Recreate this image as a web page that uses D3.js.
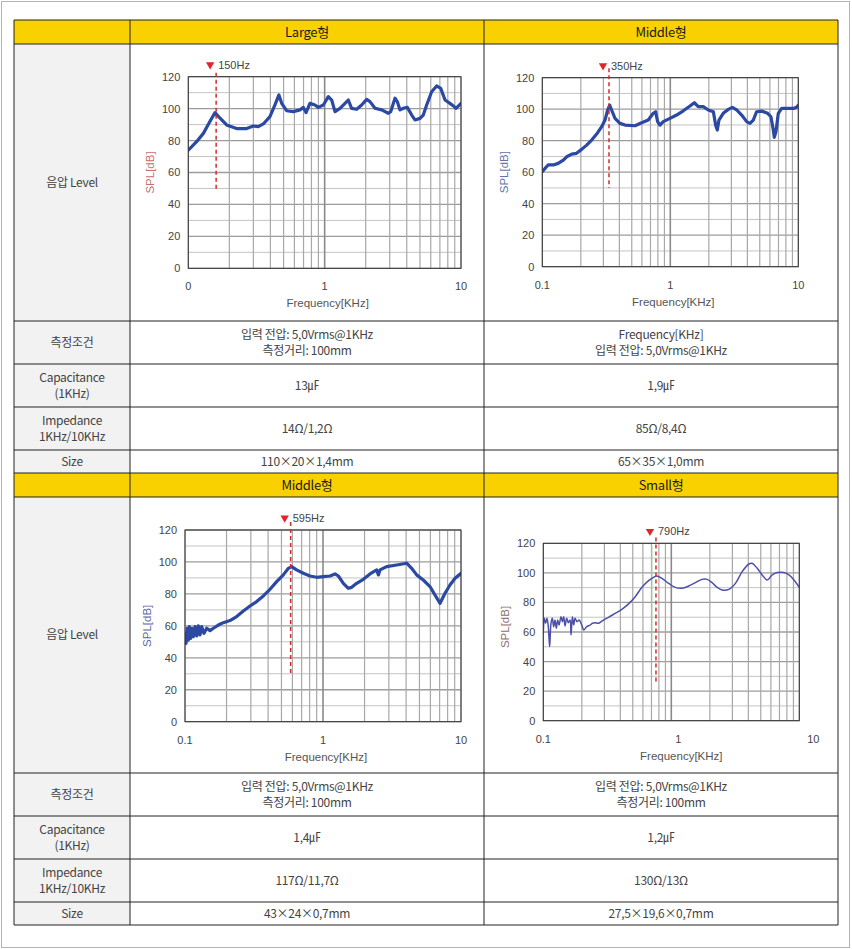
<!DOCTYPE html>
<html>
<head>
<meta charset="utf-8">
<script src="https://cdn.jsdelivr.net/npm/d3@7/dist/d3.min.js"></script>
<style>
    html, body { margin: 0; padding: 0; background: #fff; }
    svg { display: block; }
</style>
</head>
<body>
<svg id="sheet" width="852" height="949"></svg>
<script>
// 주파수 응답 곡선 (kHz, dB) — 그림에서 읽은 값
var large150 = [
    [0.1, 74], [0.115, 79.3], [0.129, 84.5], [0.144, 91.9], [0.157, 97.5], [0.171, 94],
    [0.191, 89.8], [0.226, 87.5], [0.268, 87.5], [0.300, 89.1], [0.326, 88.7], [0.355, 90.4],
    [0.397, 95], [0.432, 102.3], [0.462, 108.6], [0.484, 103.3], [0.526, 98.7], [0.589, 98.1],
    [0.659, 99.2], [0.698, 100.8], [0.730, 97.5], [0.780, 103.3], [0.849, 102.3], [0.898, 100.8],
    [0.978, 102.3], [1.064, 107.5], [1.126, 105.4], [1.191, 98.1], [1.296, 100.2], [1.41, 103.3],
    [1.49, 105.4], [1.578, 100.2], [1.717, 99.6], [1.868, 102.3], [2.032, 105.8], [2.15, 104.4],
    [2.34, 100.2], [2.62, 99.2], [2.93, 97.1], [3.05, 98.1], [3.28, 106.5], [3.41, 104.4],
    [3.57, 99.2], [3.78, 100.2], [4.04, 100.8], [4.35, 96], [4.60, 92.9], [5.00, 93.9],
    [5.29, 96], [5.60, 102.3], [6.09, 110.6], [6.63, 114.2], [7.10, 112.7], [7.64, 105.4],
    [8.30, 103.3], [8.79, 101.7], [9.19, 100.2], [10, 103.3]
];
var middle350 = [
    [0.1, 60.3], [0.105, 62.4], [0.111, 64.6], [0.122, 64.6], [0.133, 65.6], [0.146, 67.7],
    [0.155, 69.8], [0.170, 71.5], [0.185, 72], [0.203, 74.5], [0.222, 77.2], [0.243, 80.4],
    [0.266, 84.2], [0.291, 88.9], [0.309, 93.1], [0.324, 99.5], [0.336, 102.6], [0.348, 99.5],
    [0.370, 94.2], [0.404, 91], [0.443, 89.9], [0.530, 89.5], [0.597, 91.4], [0.673, 93.1],
    [0.736, 97.4], [0.768, 98.4], [0.796, 92.1], [0.830, 89.9], [0.881, 92.1], [0.994, 94.2],
    [1.12, 96.3], [1.264, 99], [1.425, 102], [1.54, 104.1], [1.655, 101.6], [1.81, 101.6],
    [1.98, 99.5], [2.17, 98.4], [2.26, 89.9], [2.33, 86.8], [2.40, 93.1], [2.59, 97.4],
    [2.84, 99.9], [3.05, 101.2], [3.30, 99.5], [3.61, 96.3], [3.95, 92.1], [4.19, 91],
    [4.45, 93.1], [4.72, 98.4], [5.17, 98.8], [5.76, 97.4], [6.11, 95.2], [6.38, 86.8],
    [6.49, 82.1], [6.69, 85.7], [6.98, 97.4], [7.41, 100.5], [8.35, 100.5], [9.14, 100.5],
    [9.70, 101.2], [10, 102.6]
];
var middle595 = [
    [0.1, 55.3], [0.1017, 49], [0.104, 58.5], [0.1057, 51], [0.1075, 59.5], [0.1099, 52.2],
    [0.1124, 58.5], [0.1149, 53.2], [0.1182, 59.5], [0.1215, 53.7], [0.1249, 60], [0.1284, 54.3],
    [0.1321, 59.5], [0.1373, 55.3], [0.1436, 58.5], [0.1518, 57], [0.1605, 58.5], [0.1744, 60.5],
    [0.1896, 62], [0.2119, 63.3], [0.2368, 65.8], [0.2647, 69.3], [0.2958, 72.4], [0.3306, 75.2],
    [0.3695, 78.7], [0.413, 82.9], [0.4615, 87.7], [0.516, 91.9], [0.561, 96], [0.593, 97.1],
    [0.644, 95], [0.720, 92.9], [0.805, 91.2], [0.900, 90.4], [1.006, 90.8], [1.124, 91.2],
    [1.222, 92.5], [1.292, 91.2], [1.404, 86.6], [1.526, 83.5], [1.614, 84.1], [1.754, 86.6],
    [1.96, 89.1], [2.19, 92.5], [2.45, 95], [2.52, 91.9], [2.59, 95], [2.89, 97.1],
    [3.42, 98.1], [4.04, 99.2], [4.39, 96], [4.77, 91.9], [5.33, 88.7], [5.96, 84.6],
    [6.48, 79.3], [7.05, 74.1], [7.66, 80.4], [8.32, 85.6], [9.06, 89.8], [10, 92.9]
];
var small790 = [
    [0.1, 59.1], [0.1018, 69.3], [0.1043, 65.9], [0.1068, 69.3], [0.1094, 63.6], [0.1121, 50.1],
    [0.1148, 65.9], [0.1176, 69.3], [0.1205, 63.6], [0.1234, 68.1], [0.1264, 62.5], [0.1295, 68.1],
    [0.1327, 64.7], [0.1375, 70.4], [0.1409, 67], [0.1443, 70.4], [0.1478, 64.1], [0.1523, 69.3],
    [0.1570, 66.3], [0.1618, 68.1], [0.1647, 58], [0.1687, 70.4], [0.1728, 64.7], [0.1770, 69.3],
    [0.1835, 67], [0.1903, 68.1], [0.1997, 64.7], [0.2070, 61.4], [0.2185, 63.6], [0.2320, 64.7],
    [0.2420, 65.9], [0.2540, 66.3], [0.2697, 65.9], [0.2951, 68.1], [0.3229, 69.9], [0.3642, 72.6],
    [0.4108, 75.3], [0.4634, 79], [0.5224, 83.9], [0.5892, 90.2], [0.6645, 94.7], [0.7271, 97],
    [0.7723, 97.9], [0.8451, 96.3], [0.953, 92.9], [1.075, 90.2], [1.212, 89.6], [1.367, 91.1],
    [1.542, 93.4], [1.739, 95.6], [1.903, 95.6], [2.082, 93.4], [2.279, 90.2], [2.494, 88.4],
    [2.812, 88.8], [3.171, 92.9], [3.577, 100.8], [4.034, 106], [4.284, 106.5], [4.688, 103.1],
    [5.131, 98.6], [5.615, 95.2], [6.144, 98.6], [6.726, 100.2], [7.585, 100.2], [8.302, 98.6],
    [9.084, 95.2], [10, 90.2]
];

var yTicks = [0, 20, 40, 60, 80, 100, 120];
var xTicks = [0.1, 1, 10];
var xLabelsLarge = ['0', '1', '10'];
var xLabels = ['0.1', '1', '10'];
var markerFreqs = [0.16, 0.332, 0.583, 0.759];
var markerLabels = ['150Hz', '350Hz', '595Hz', '790Hz'];

var headersTop = ['Large형', 'Middle형'];
var headersBottom = ['Middle형', 'Small형'];
var rowLabels = ['측정조건', 'Capacitance\n(1KHz)', 'Impedance\n1KHz/10KHz', 'Size'];
var specsTop = [
    ['입력 전압: 5,0Vrms@1KHz\n측정거리: 100mm', 'Frequency[KHz]\n입력 전압: 5,0Vrms@1KHz'],
    ['13㎌', '1,9㎌'],
    ['14Ω/1,2Ω', '85Ω/8,4Ω'],
    ['110×20×1,4mm', '65×35×1,0mm']
];
var specsBottom = [
    ['입력 전압: 5,0Vrms@1KHz\n측정거리: 100mm', '입력 전압: 5,0Vrms@1KHz\n측정거리: 100mm'],
    ['1,4㎌', '1,2㎌'],
    ['117Ω/11,7Ω', '130Ω/13Ω'],
    ['43×24×0,7mm', '27,5×19,6×0,7mm']
];

(function () {
    var KO = '"Noto Sans CJK KR", sans-serif';
    var AX = '"Liberation Sans Narrow", "Liberation Sans", Arial, sans-serif';
    var YELLOW = '#f9d100';

    var svg = d3.select('#sheet');

    // 바깥 테두리
    svg.append('rect').attr('x', 1.5).attr('y', 1.5).attr('width', 848).attr('height', 946)
        .attr('fill', '#fff').attr('stroke', '#b4b4b4');

    // 표 구조
    var X0 = 14, C1 = 130, C2 = 484, X1 = 838;
    var rowsY = [20, 44, 321, 364, 407, 450, 473, 497, 773, 816, 859, 902, 925];
    var cols = [[C1, C2], [C2, X1]];

    var tbl = svg.append('g');

    function cellText(g, x, y0, y1, txt, opt) {
        var lines = txt.split('\n');
        var lh = 16.5;
        var cy = (y0 + y1) / 2 - (lines.length - 1) * lh / 2;
        var t = g.append('text')
            .attr('text-anchor', 'middle')
            .attr('font-family', KO)
            .attr('font-size', opt.size)
            .attr('fill', opt.color)
            .attr('letter-spacing', -0.3);
        lines.forEach(function (ln, i) {
            t.append('tspan').attr('x', x).attr('y', cy + i * lh).attr('dy', '0.36em').text(ln);
        });
    }

    function block(iHead, headers, specs) {
        var yH0 = rowsY[iHead], yH1 = rowsY[iHead + 1], yC1 = rowsY[iHead + 2];
        tbl.append('rect').attr('x', X0).attr('y', yH0).attr('width', X1 - X0).attr('height', yH1 - yH0)
            .attr('fill', YELLOW);
        tbl.append('rect').attr('x', X0).attr('y', yH1).attr('width', C1 - X0).attr('height', rowsY[iHead + 6] - yH1)
            .attr('fill', '#f2f2f2');
        headers.forEach(function (h, i) {
            cellText(tbl, (cols[i][0] + cols[i][1]) / 2, yH0, yH1, h, { size: 13, color: '#1a1a1a' });
        });
        cellText(tbl, (X0 + C1) / 2, yH1, yC1, '음압 Level', { size: 12, color: '#444' });
        rowLabels.forEach(function (lb, r) {
            var a = rowsY[iHead + 2 + r], b = rowsY[iHead + 3 + r];
            cellText(tbl, (X0 + C1) / 2, a, b, lb, { size: 12, color: '#444' });
            specs[r].forEach(function (s, i) {
                cellText(tbl, (cols[i][0] + cols[i][1]) / 2, a, b, s, { size: 12, color: '#444' });
            });
        });
    }
    block(0, headersTop, specsTop);
    block(6, headersBottom, specsBottom);

    rowsY.forEach(function (y) {
        tbl.append('line').attr('x1', X0).attr('x2', X1).attr('y1', y).attr('y2', y)
            .attr('stroke', '#222').attr('stroke-width', 1);
    });
    [X0, C1, C2, X1].forEach(function (x) {
        tbl.append('line').attr('x1', x).attr('x2', x).attr('y1', rowsY[0]).attr('y2', rowsY[rowsY.length - 1])
            .attr('stroke', '#222').attr('stroke-width', 1);
    });

    // 차트 설정 (위치/스타일)
    var charts = [
        { data: large150, box: [188.3, 76.7, 461, 268.3], labels: xLabelsLarge, lab: null,
          ylab: '#c86e6e', color: '#2b49a2', lw: 3.2, dashTop: 122.5, dashBot: 49, curve: d3.curveLinear },
        { data: middle350, box: [542.3, 77.7, 798.3, 266.7], labels: xLabels, lab: null,
          ylab: '#6272a8', color: '#2b49a2', lw: 3.2, dashTop: 126, dashBot: 50, curve: d3.curveLinear },
        { data: middle595, box: [185, 530, 461, 721.7], labels: xLabels, lab: null,
          ylab: '#5a68a4', color: '#2b49a2', lw: 3.2, dashTop: 125, dashBot: 30, curve: d3.curveLinear },
        { data: small790, box: [543.3, 543.3, 799.3, 720.7], labels: xLabels, lab: [543.3, 813.3],
          ylab: '#8c6e6e', color: '#4c50a8', lw: 1.5, dashTop: 124, dashBot: 26, green: 0.706,
          curve: d3.curveCatmullRom.alpha(0.5) }
    ];

    var decades = [];
    [0.1, 1].forEach(function (d) { for (var k = 1; k <= 9; k++) decades.push(d * k); });
    decades.push(10);
    var yGrid = d3.range(0, 121, 10);

    charts.forEach(function (c, ci) {
        var L = c.box[0], T = c.box[1], R = c.box[2], B = c.box[3];
        var x = d3.scaleLog().domain([0.1, 10]).range([L, R]);
        var y = d3.scaleLinear().domain([0, 120]).range([B, T]);
        var xl = c.lab ? d3.scaleLog().domain([0.1, 10]).range(c.lab) : x;
        var g = svg.append('g');

        g.append('rect').attr('x', L).attr('y', T).attr('width', R - L).attr('height', B - T).attr('fill', '#fff');

        g.selectAll('line.hg').data(yGrid).join('line').attr('class', 'hg')
            .attr('x1', L).attr('x2', R)
            .attr('y1', function (d) { return y(d); }).attr('y2', function (d) { return y(d); })
            .attr('stroke', function (d) { return d % 20 === 0 ? '#9c9c9c' : '#c4c4c4'; })
            .attr('stroke-width', function (d) { return d % 20 === 0 ? 1.3 : 1; });

        g.selectAll('line.vg').data(decades).join('line').attr('class', 'vg')
            .attr('x1', function (d) { return x(d); }).attr('x2', function (d) { return x(d); })
            .attr('y1', T).attr('y2', B)
            .attr('stroke', function (d) { return (d === 1) ? '#8a8a8a' : '#a8a8a8'; })
            .attr('stroke-width', function (d) { return (d === 1) ? 1.6 : 1.2; });

        if (c.green) {
            g.append('line').attr('x1', x(c.green)).attr('x2', x(c.green))
                .attr('y1', y(118)).attr('y2', y(52)).attr('stroke', '#9fd3a0').attr('stroke-width', 1);
        }

        var clipId = 'clip' + ci;
        g.append('clipPath').attr('id', clipId).append('rect')
            .attr('x', L).attr('y', T - 2).attr('width', R - L).attr('height', B - T + 4);

        var line = d3.line()
            .x(function (d) { return x(d[0]); })
            .y(function (d) { return y(d[1]); })
            .curve(c.curve);
        g.append('path').datum(c.data)
            .attr('clip-path', 'url(#' + clipId + ')')
            .attr('d', line).attr('fill', 'none')
            .attr('stroke', c.color).attr('stroke-width', c.lw)
            .attr('stroke-linejoin', 'round').attr('stroke-linecap', 'round');

        g.append('rect').attr('x', L).attr('y', T).attr('width', R - L).attr('height', B - T)
            .attr('fill', 'none').attr('stroke', '#333').attr('stroke-width', 1);

        // 축 눈금 라벨
        g.selectAll('text.yt').data(yTicks).join('text').attr('class', 'yt')
            .attr('x', L - 8).attr('y', function (d) { return y(d); }).attr('dy', '0.36em')
            .attr('text-anchor', 'end').attr('font-family', AX).attr('font-size', 11)
            .attr('fill', '#444').text(function (d) { return d; });

        g.selectAll('text.xt').data(xTicks).join('text').attr('class', 'xt')
            .attr('x', function (d) { return xl(d); }).attr('y', B + 18).attr('dy', '0.36em')
            .attr('text-anchor', 'middle').attr('font-family', AX).attr('font-size', 11)
            .attr('fill', '#444').text(function (d, i) { return c.labels[i]; });

        var xr = xl.range();
        g.append('text').attr('x', (xr[0] + xr[1]) / 2 + 3).attr('y', B + 35).attr('dy', '0.36em')
            .attr('text-anchor', 'middle').attr('font-family', AX).attr('font-size', 11.5)
            .attr('fill', '#555').text('Frequency[KHz]');

        g.append('text')
            .attr('transform', 'translate(' + (L - 38) + ',' + ((T + B) / 2 - (c.lab ? 5 : 0)) + ') rotate(-90)')
            .attr('dy', '0.36em').attr('text-anchor', 'middle')
            .attr('font-family', AX).attr('font-size', 11.5)
            .attr('fill', c.ylab).text('SPL[dB]');

        // 공진 주파수 표시
        var mx = x(markerFreqs[ci]);
        g.append('line').attr('x1', mx).attr('x2', mx)
            .attr('y1', y(c.dashTop)).attr('y2', y(c.dashBot))
            .attr('stroke', '#d42a2a').attr('stroke-width', 1.5).attr('stroke-dasharray', '4,3');
        var ty = T - 12;
        g.append('path')
            .attr('d', d3.symbol().type(d3.symbolTriangle).size(30))
            .attr('transform', 'translate(' + (mx - 6) + ',' + ty + ') rotate(180)')
            .attr('fill', '#e0262a');
        g.append('text').attr('x', mx + 2).attr('y', ty).attr('dy', '0.36em')
            .attr('font-family', AX).attr('font-size', 11).attr('fill', '#444')
            .text(markerLabels[ci]);
    });
})();
</script>
</body>
</html>
